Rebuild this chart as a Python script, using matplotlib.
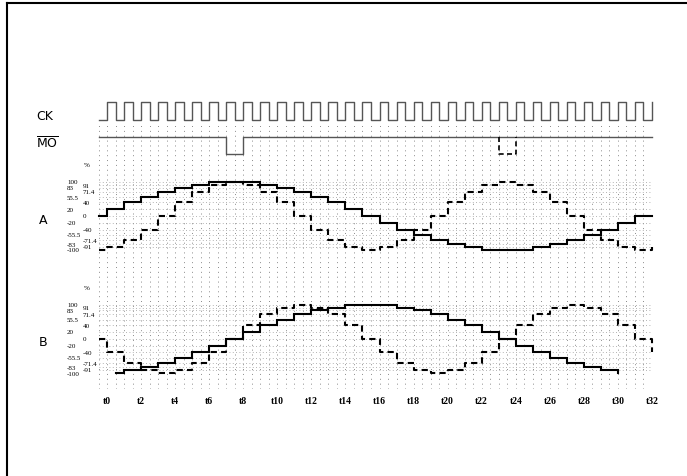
import numpy as np
import matplotlib.pyplot as plt
from matplotlib.lines import Line2D
from matplotlib.transforms import blended_transform_factory

W, H = 687, 477

# ---- values ----
n_steps = 32                      # t0 .. t32, one clock pulse per step
mo_low_solid = [7, 8]             # MO low (solid) between these steps
mo_low_dash = [23, 24]            # MO low (dashed) between these steps

levels = [100, 91, 83, 71.4, 55.5, 40, 20, 0, -20, -40, -55.5, -71.4, -83, -91, -100]
labels_left = ['100', '83', '55.5', '20', '-20', '-55.5', '-83', '-100']
labels_right = ['91', '71.4', '40', '0', '-40', '-71.4', '-91']
tick_steps = list(range(0, 33, 2))
tick_labels = ['t%d' % t for t in tick_steps]

# phase A, one value per step (first value from t-0.5)
a_solid = [0, 20, 40, 55.5, 71.4, 83, 91, 100, 100, 100, 91, 83, 71.4, 55.5, 40, 20,
           0, -20, -40, -55.5, -71.4, -83, -91, -100, -100, -100, -91, -83, -71.4, -55.5,
           -40, -20, 0]
a_dash = [-100, -91, -71.4, -40, 0, 40, 71.4, 91, 100, 91, 71.4, 40, 0, -40, -71.4, -91,
          -100, -91, -71.4, -40, 0, 40, 71.4, 91, 100, 91, 71.4, 40, 0, -40, -71.4, -91,
          -100]
a_dash_tail = -91

# phase B (solid trace starts at t0.5 and stops at t30)
b_solid = [-100, -91, -83, -71.4, -55.5, -40, -20, 0, 20, 40, 55.5, 71.4, 83, 91, 100,
           100, 100, 91, 83, 71.4, 55.5, 40, 20, 0, -20, -40, -55.5, -71.4, -83, -91]
b_solid_tail = -100
b_dash = [0, -40, -71.4, -91, -100, -91, -71.4, -40, 0, 40, 71.4, 91, 100, 91, 71.4, 40,
          0, -40, -71.4, -91, -100, -91, -71.4, -40, 0, 40, 71.4, 91, 100, 91, 71.4, 40,
          0]
b_dash_tail = -40


def step_path(start, vals, tail=None):
    first = int(np.ceil(start))
    edges = [start] + list(range(first, first + len(vals)))
    xs, ys = [], []
    for i, v in enumerate(vals):
        xs += [edges[i], edges[i + 1]]
        ys += [v, v]
    if tail is not None:
        xs.append(edges[-1])
        ys.append(tail)
    return xs, ys


fig = plt.figure(figsize=(W / 100, H / 100), dpi=100)
fig.patch.set_facecolor('white')

X0, X1 = 98.5, 652


def px_axes(y0, y1):
    ax = fig.add_axes([X0 / W, 1 - y1 / H, (X1 - X0) / W, (y1 - y0) / H])
    ax.set_xlim(-0.5, n_steps)
    ax.patch.set_visible(False)
    for s in ax.spines.values():
        s.set_visible(False)
    ax.set_xticks([])
    ax.set_yticks([])
    return ax


# frame
fig.add_artist(Line2D([7 / W, 7 / W], [0, 1 - 3.5 / H], color='black', lw=1.5))
fig.add_artist(Line2D([7 / W, 1], [1 - 3.5 / H, 1 - 3.5 / H], color='black', lw=1.5))

# dotted vertical grid + step labels
ax_grid = px_axes(125, 390)
ax_grid.set_ylim(0, 1)
ax_grid.vlines(np.arange(-0.5, n_steps + 0.01, 0.5), 0, 1, colors='#8a8a8a',
               linestyles=(0, (1, 4)), lw=0.7)
ax_grid.set_xticks(tick_steps)
ax_grid.set_xticklabels(tick_labels, family='Liberation Serif', fontweight='bold', fontsize=7)
ax_grid.tick_params(axis='x', length=0, pad=4.8)

# clock
ax_ck = px_axes(103, 121)
ax_ck.set_ylim(0, 1)
ck_x, ck_y = [-0.5], [0]
for k in range(n_steps):
    ck_x += [k, k, k + 0.5, k + 0.5]
    ck_y += [0, 1, 1, 0]
ck_x += [n_steps, n_steps]
ck_y += [0, 1]
ax_ck.plot(ck_x, ck_y, color='#555555', lw=1.0, clip_on=False)

# MO
ax_mo = px_axes(138, 155)
ax_mo.set_ylim(0, 1)
ax_mo.plot([-0.5, mo_low_solid[0], mo_low_solid[0], mo_low_solid[1], mo_low_solid[1], n_steps],
           [1, 1, 0, 0, 1, 1], color='#555555', lw=1.0, clip_on=False)
ax_mo.plot([mo_low_dash[0], mo_low_dash[0], mo_low_dash[1], mo_low_dash[1]],
           [1, 0, 0, 1], color='black', lw=1.2, ls=(0, (3, 2)), clip_on=False)

# phase axes
ax_a = px_axes(183, 251)
ax_b = px_axes(305.5, 374)
for ax, solid, s_start, s_tail, dash, d_tail in [
        (ax_a, a_solid, -0.5, None, a_dash, a_dash_tail),
        (ax_b, b_solid, 0.5, b_solid_tail, b_dash, b_dash_tail)]:
    ax.set_ylim(-100, 100)
    ax.hlines(levels, -0.5, n_steps, colors='#9a9a9a', linestyles=(0, (1, 3)), lw=0.6)
    xs, ys = step_path(s_start, solid, s_tail)
    ax.plot(xs, ys, color='black', lw=1.5, clip_on=False, solid_joinstyle='miter')
    xs, ys = step_path(-0.5, dash, d_tail)
    ax.plot(xs, ys, color='black', lw=1.5, ls=(0, (3, 2)), clip_on=False)
    tr = blended_transform_factory(fig.transFigure, ax.transData)
    for lab in labels_left:
        ax.text(67 / W, float(lab), lab, transform=tr, ha='left', va='center',
                fontsize=5, family='Liberation Serif')
    for lab in labels_right:
        ax.text(83 / W, float(lab), lab, transform=tr, ha='left', va='center',
                fontsize=5, family='Liberation Serif')
    ax.text(84 / W, 150, '%', transform=tr, ha='left', va='center', fontsize=5,
            family='Liberation Serif')

plt.rcParams['mathtext.fontset'] = 'dejavusans'
side = dict(fontsize=9, family='DejaVu Sans', ha='left', va='center', color='black')
fig.text(36 / W, 1 - 116 / H, 'CK', **side)
fig.text(36 / W, 1 - 144 / H, r'$\overline{\mathrm{MO}}$', **side)
fig.text(39 / W, 1 - 220 / H, 'A', **side)
fig.text(39 / W, 1 - 343 / H, 'B', **side)

fig.savefig('out.png', dpi=100, facecolor='white')
